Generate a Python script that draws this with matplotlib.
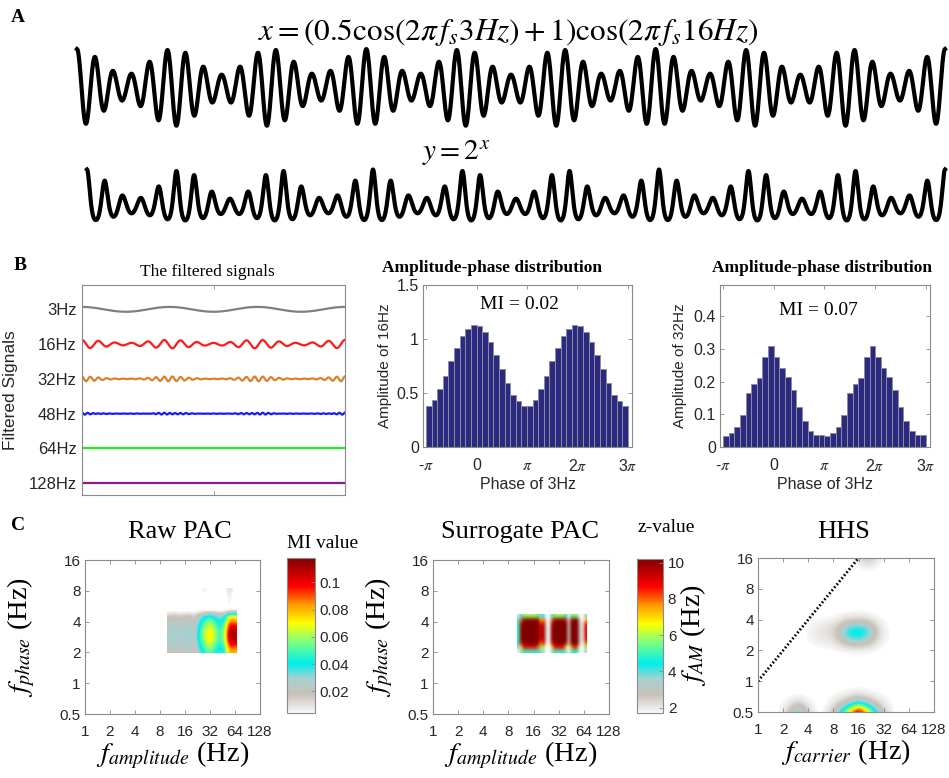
import numpy as np
import matplotlib
matplotlib.use('Agg')
import matplotlib.pyplot as plt
from matplotlib.colors import LinearSegmentedColormap, Normalize

plt.rcParams['font.family'] = ['Liberation Sans', 'DejaVu Sans']
plt.rcParams['mathtext.fontset'] = 'stix'

# ---- panel A: the test signal (parameters as written in the figure) ----
f_mod = 3
f_car = 16
mod_depth = 0.5
dur_a = 3.0
fs = 1000

# ---- panel B: filtered signals ----
band_names = ['3Hz', '16Hz', '32Hz', '48Hz', '64Hz', '128Hz']
band_centres = [3, 16, 32, 48, 64, 128]
band_colors = ['#808080', '#ff1a1a', '#d9822b', '#1a1aff', '#22ee22', '#8b1a8b']
band_amps = [0.07, 0.12, 0.07, 0.03, 0.0, 0.0]

# amplitude-phase distributions (18 phase bins, shown twice)
amp16 = [0.38, 0.435, 0.534, 0.657, 0.796, 0.92, 1.028, 1.096, 1.127,
         1.117, 1.062, 0.972, 0.852, 0.719, 0.596, 0.481, 0.426, 0.383]
amp32 = [0.035, 0.044, 0.062, 0.099, 0.164, 0.194, 0.212, 0.276, 0.309,
         0.276, 0.240, 0.215, 0.175, 0.123, 0.080, 0.049, 0.038, 0.038]
mi16 = 0.02
mi32 = 0.07

# ---- panel C: comodulograms (log2 Hz grids) ----
oct_labels_x = ['1', '2', '4', '8', '16', '32', '64', '128']
oct_labels_y = ['0.5', '1', '2', '4', '8', '16']

# raw PAC: MI values, grid over f_amp log2 [3.27, 6.07], f_phase log2 [0.98, 3.06]
raw_ext = [3.27, 6.07, 0.98, 3.06]
raw_cols = [0.027, 0.032, 0.025, 0.030, 0.032, 0.021, 0.046, 0.062, 0.077,
            0.064, 0.047, 0.058, 0.116, 0.110]
raw_rows = [0.72, 0.86, 0.96, 1.0, 0.97, 0.88, 0.74, 0.58, 0, 0, 0, 0, 0]
raw_extra_r = [9, 10, 11, 12, 12]
raw_extra_c = [12, 12, 12, 12, 7]
raw_extra_v = [0.007, 0.007, 0.009, 0.014, 0.009]

# surrogate PAC: z-values, grid over f_amp log2 [3.33, 6.08], f_phase log2 [0.97, 2.21]
sur_ext = [3.33, 6.08, 0.97, 2.21]
sur_cols = [5, 10, 14, 14, 14, 14, 14, 13, 9, 10, 2.5, 1.5, 10, 14, 14, 14,
            14, 11, 3, 12, 14, 13, 3, 2, 9]
sur_rows = [0.35, 0.62, 0.88, 1.0, 1.0, 1.0, 1.0, 0.95, 0.8, 0.42]

# HHS: blobs on a 0.25-octave grid (x: 0..7, y: -1..4)
hhs_ext = [-0.125, 7.125, -1.125, 4.125]
hhsA_col = [0]*8 + [0.02, 0.04, 0.06, 0.07, 0.1, 0.18, 0.3, 0.36, 0.37, 0.34, 0.24, 0.11, 0.04, 0.01] + [0]*7
hhsA_row = [0]*8 + [0.06, 0.5, 0.97, 0.85, 0.25, 0.02] + [0]*7
hhsB_col = [0]*11 + [0.04, 0.14, 0.3, 0.52, 0.76, 1.0, 0.76, 0.52, 0.3, 0.14, 0.04] + [0]*7
hhsB_row = [1.0, 0.4, 0.1, 0.01] + [0]*17
hhsC_col = [0]*4 + [0.05, 0.15, 0.32, 0.3, 0.12, 0.03] + [0]*19
hhsC_row = [0.9, 0.35, 0.05] + [0]*18
hhsD_col = [0]*16 + [0.06, 0.12, 0.12, 0.06] + [0]*9
hhsD_row = [0]*19 + [0.3, 1.0]
diag_f = [1, 16]

W, H = 949, 778
fig = plt.figure(figsize=(W/100, H/100), dpi=100)


def box(l, t, r, b):
    return [l/W, 1 - b/H, (r - l)/W, (b - t)/H]


def ftext(x, y, s, **kw):
    fig.text(x/W, 1 - y/H, s, ha=kw.pop('ha', 'center'), va=kw.pop('va', 'center'), **kw)


def mbox(ax, size):
    for s in ax.spines.values():
        s.set_color('#8a8a8a')
        s.set_linewidth(0.8)
    ax.tick_params(direction='in', top=True, right=True, length=3, width=0.6,
                   color='#8a8a8a', labelsize=size, labelcolor='#262626', pad=3)


cmap = LinearSegmentedColormap.from_list('pac', [
    (0.00, '#f8f8f8'), (0.12, '#c9c1b9'), (0.22, '#a8d0d0'), (0.32, '#00eeee'),
    (0.46, '#7fff7f'), (0.58, '#ffff00'), (0.70, '#ff9900'), (0.82, '#ff0000'),
    (1.00, '#800000')])
cmap.set_under('white')

serif = 'Liberation Serif'

# ================= A =================
t_a = np.arange(0, dur_a + 0.5/fs, 1/fs)
x_sig = (mod_depth*np.cos(2*np.pi*f_mod*t_a) + 1)*np.cos(2*np.pi*f_car*t_a)
y_sig = 2.0**x_sig

axA1 = fig.add_axes(box(77, 47, 945, 128))
axA1.plot(t_a, x_sig, color='k', lw=3.0, clip_on=False)
axA1.set_xlim(0, dur_a)
axA1.set_ylim(-1.58, 1.58)
axA1.axis('off')

axA2 = fig.add_axes(box(87, 168, 945, 222))
axA2.plot(t_a, y_sig, color='k', lw=3.0, clip_on=False)
axA2.set_xlim(0, dur_a)
axA2.set_ylim(0.28, 2.90)
axA2.axis('off')

ftext(18, 18, 'A', family=serif, weight='bold', fontsize=14)
ftext(508, 32, r'$x=(0.5\cos(2\pi\,f_s3Hz)+1)\cos(2\pi\,f_s16Hz)$', fontsize=22.5)
ftext(456, 153, r'$y=2^x$', fontsize=21)

# ================= B =================
t_b = np.arange(0, 1, 1/fs)
sig_b = 2.0**((mod_depth*np.cos(2*np.pi*f_mod*t_b) + 1)*np.cos(2*np.pi*f_car*t_b))
spec = np.fft.rfft(sig_b - sig_b.mean())
freqs = np.fft.rfftfreq(len(t_b), 1/fs)

axB1 = fig.add_axes(box(82, 285, 345, 495))
for k, (fc, col, a) in enumerate(zip(band_centres, band_colors, band_amps)):
    bw = max(1.0, fc/4)
    filt = np.fft.irfft(np.where(np.abs(freqs - fc) <= bw, spec, 0), n=len(t_b))
    peak = np.abs(filt).max()
    trace = filt/peak*a if (peak > 0 and a > 0) else np.zeros_like(t_b)
    axB1.plot(t_b, k + 1 - trace, color=col, lw=1.6)
axB1.set_xlim(0, 1)
axB1.set_ylim(6.34, 0.30)
axB1.set_yticks(range(1, 7))
axB1.set_yticklabels(band_names)
axB1.set_xticks([0.5])
axB1.set_xticklabels([])
mbox(axB1, 12)
axB1.tick_params(axis='y', length=0, left=False, right=False, pad=4)
axB1.set_ylabel('Filtered Signals', fontsize=12.5, color='#262626')
axB1.yaxis.set_label_coords(-0.245, 0.5)
ftext(207, 272, 'The filtered signals', family=serif, fontsize=12.5)
ftext(20, 265, 'B', family=serif, weight='bold', fontsize=14)

bw_ph = np.pi/9
centres = -np.pi + bw_ph/2 + bw_ph*np.arange(18)
centres2 = np.concatenate([centres, centres + 2*np.pi])
pi_ticks = [-np.pi, 0, np.pi, 2*np.pi, 3*np.pi]
pi_labels = [r'-$\pi$', '0', r'$\pi$', r'2$\pi$', r'3$\pi$']

for l, r, amps, ylim, yt, ylab, mi, title_x, mi_pos, ylx in [
        (423, 632, amp16, 1.5, [0, 0.5, 1, 1.5], 'Amplitude of 16Hz', mi16, 492, (0.464, 0.877), -0.148),
        (720, 930, amp32, 0.495, [0, 0.1, 0.2, 0.3, 0.4], 'Amplitude of 32Hz', mi32, 822, (0.471, 0.842), -0.157)]:
    ax = fig.add_axes(box(l, 285, r, 447))
    ax.bar(centres2, list(amps) + list(amps), width=bw_ph, color='#2c2a80',
           edgecolor='#8c8ca0', linewidth=0.7)
    ax.set_xlim(-1.06*np.pi, 3.08*np.pi)
    ax.set_ylim(0, ylim)
    ax.set_yticks(yt)
    ax.set_yticklabels([('%g' % v) for v in yt])
    ax.set_xticks(pi_ticks)
    ax.set_xticklabels(pi_labels)
    mbox(ax, 11.5)
    ax.tick_params(axis='x', pad=8)
    ax.set_ylabel(ylab, fontsize=11, color='#262626')
    ax.yaxis.set_label_coords(ylx, 0.5)
    ax.set_xlabel('Phase of 3Hz', fontsize=11.5, color='#262626')
    ax.xaxis.set_label_coords(0.5, -0.185)
    ax.text(mi_pos[0], mi_pos[1], 'MI = %.2f' % mi, transform=ax.transAxes,
            ha='center', va='center', family=serif, fontsize=14)
    ftext(title_x, 268, 'Amplitude-phase distribution', family=serif,
          weight='bold', fontsize=12.5)

# ================= C =================
ftext(18, 525, 'C', family=serif, weight='bold', fontsize=14)


def comod(l, t, r, b, title, title_x, xlab, ylab, ylab_x):
    ax = fig.add_axes(box(l, t, r, b))
    ax.set_xlim(0, 7)
    ax.set_ylim(-1, 4)
    ax.set_xticks(range(8))
    ax.set_xticklabels(oct_labels_x)
    ax.set_yticks(range(-1, 5))
    ax.set_yticklabels(oct_labels_y)
    mbox(ax, 11)
    ax.tick_params(axis='x', pad=8)
    ax.set_xlabel(xlab, fontsize=20.5, family=serif)
    ax.xaxis.set_label_coords(0.5, -0.165)
    ax.set_ylabel(ylab, fontsize=20.5, family=serif)
    ax.yaxis.set_label_coords(ylab_x, 0.5)
    ftext(title_x, 532, title, family=serif, fontsize=19)
    return ax


def cbar(im, l, t, r, b, ticks, labels, label, lx, ly):
    cax = fig.add_axes(box(l, t, r, b))
    cb = fig.colorbar(im, cax=cax)
    cb.outline.set_edgecolor('#8a8a8a')
    cb.outline.set_linewidth(0.8)
    cb.set_ticks(ticks)
    cb.set_ticklabels(labels)
    cax.tick_params(direction='in', length=3, width=0.6, color='#8a8a8a',
                    labelsize=11, labelcolor='#262626')
    ftext(lx, ly, label, family=serif, fontsize=14, ha='left')


# raw PAC
raw = np.outer(raw_rows, raw_cols)
raw[raw_extra_r, raw_extra_c] = raw_extra_v
axC1 = comod(85, 560, 260, 714, 'Raw PAC', 180,
             r'$f_{amplitude}$ (Hz)', r'$f_{phase}$ (Hz)', -0.274)
im1 = axC1.imshow(raw, origin='lower', extent=raw_ext, aspect='auto',
                  interpolation='bicubic', cmap=cmap, norm=Normalize(0.004, 0.118))
cbar(im1, 287, 558, 315, 713, [0.02, 0.04, 0.06, 0.08, 0.1],
     ['0.02', '0.04', '0.06', '0.08', '0.1'], 'MI value', 287, 543)

# surrogate PAC
sur = np.outer(sur_rows, sur_cols)
axC2 = comod(433, 560, 609, 714, 'Surrogate PAC', 520,
             r'$f_{amplitude}$ (Hz)', r'$f_{phase}$ (Hz)', -0.214)
im2 = axC2.imshow(sur, origin='lower', extent=sur_ext, aspect='auto',
                  interpolation='bicubic', cmap=cmap, norm=Normalize(1.7, 10.2))
cbar(im2, 637, 559, 663, 713, [2, 4, 6, 8, 10], ['2', '4', '6', '8', '10'],
     'z-value', 637, 527)

# HHS
hhs = (np.outer(hhsA_row, hhsA_col) + np.outer(hhsB_row, hhsB_col)
       + np.outer(hhsC_row, hhsC_col) + np.outer(hhsD_row, hhsD_col))
axC3 = comod(758, 558, 934, 712, 'HHS', 844,
             r'$f_{carrier}$ (Hz)', r'$f_{AM}$ (Hz)', -0.284)
axC3.imshow(hhs, origin='lower', extent=hhs_ext, aspect='auto',
            interpolation='bicubic', interpolation_stage='data',
            cmap=cmap, norm=Normalize(0.012, 1.0))
axC3.plot(np.log2(diag_f), np.log2(diag_f), color='k', lw=2.0,
          linestyle=(0, (0.6, 0.8)))
axC3.set_xlim(0, 7)
axC3.set_ylim(-1, 4)

fig.savefig('out.png', dpi=100)
